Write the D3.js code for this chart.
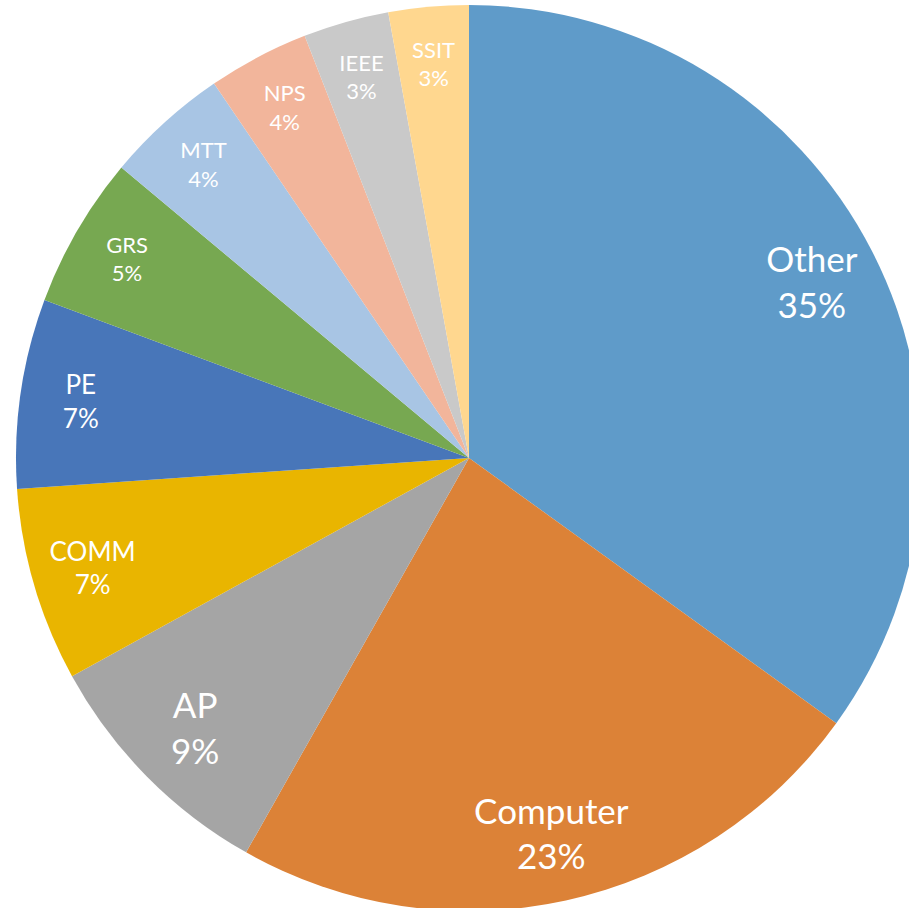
<!DOCTYPE html>
<html><head><meta charset="utf-8">
<script src="https://cdn.jsdelivr.net/npm/d3@7"></script>
<style>html,body{margin:0;padding:0;background:#fff;overflow:hidden}</style>
</head><body>
<svg id="chart" width="909" height="908"></svg>
<script>
const categories = ["Other","Computer","AP","COMM","PE","GRS","MTT","NPS","IEEE","SSIT"];
const values = [34.9, 23.2, 8.8, 6.9, 6.75, 5.4, 4.4, 3.6, 3.05, 2.85];
const colors = ["#5F9BC9","#DC8237","#A5A5A5","#E9B500","#4876B9","#77A851","#A8C5E4","#F2B59B","#C9C9C9","#FFD78F"];

const svg = d3.select("#chart");
const cx = 469, cy = 458, R = 453;
const g = svg.append("g").attr("transform", `translate(${cx},${cy})`);
const total = d3.sum(values);
const data = categories.map((c,i)=>({name:c, value:values[i], color:colors[i]}));
const pie = d3.pie().value(d=>d.value).sort(null);
const arcs = pie(data);
const arc = d3.arc().innerRadius(0).outerRadius(R);
g.selectAll("path").data(arcs).join("path")
  .attr("d", arc).attr("fill", d=>d.data.color);

const fontSize = v => v >= 8 ? 35 : (v >= 6.5 ? 26 : 22);
const labelPos = d => {
  const r = R*0.873 - (fontSize(d.data.value) - 22)*0.8;
  return d3.arc().innerRadius(r).outerRadius(r).centroid(d);
};
const lbl = g.selectAll("text.lbl").data(arcs).join("text")
  .attr("class","lbl")
  .attr("transform", d=>`translate(${labelPos(d)})`)
  .attr("text-anchor","middle")
  .attr("fill","#fff")
  .attr("font-family","Lato, 'Open Sans', sans-serif")
  .attr("font-size", d=>fontSize(d.data.value));
lbl.append("tspan").attr("x",0).attr("dy","-0.3em").text(d=>d.data.name);
lbl.append("tspan").attr("x",0).attr("dy","1.3em").text(d=>Math.round(d.data.value/total*100)+"%");
</script>
</body></html>
